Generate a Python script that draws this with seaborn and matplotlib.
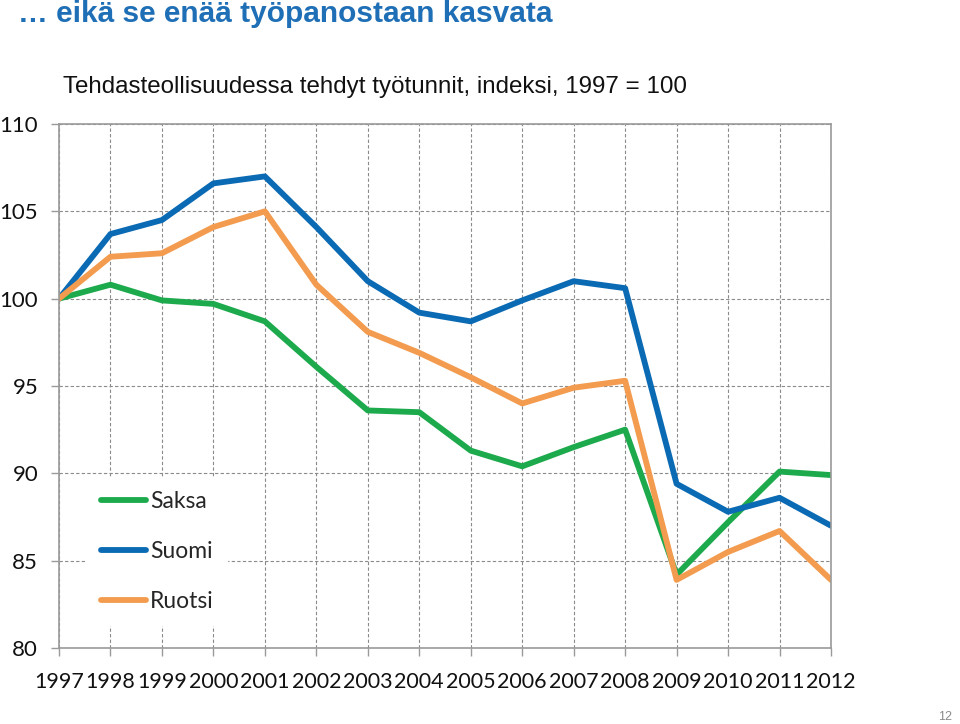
import numpy as np
import pandas as pd
import matplotlib
matplotlib.use("Agg")
import matplotlib.pyplot as plt
import seaborn as sns

# DATA
years = list(range(1997, 2013))
saksa = [100.0, 100.8, 99.9, 99.7, 98.7, 96.1, 93.6, 93.5, 91.3, 90.4, 91.5, 92.5, 84.2, 87.2, 90.1, 89.9]
suomi = [100.0, 103.7, 104.5, 106.6, 107.0, 104.1, 101.0, 99.2, 98.7, 99.9, 101.0, 100.6, 89.4, 87.8, 88.6, 87.0]
ruotsi = [100.0, 102.4, 102.6, 104.1, 105.0, 100.8, 98.1, 96.9, 95.5, 94.0, 94.9, 95.3, 83.9, 85.5, 86.7, 83.9]
series_names = ["Saksa", "Suomi", "Ruotsi"]
y_ticks = [80, 85, 90, 95, 100, 105, 110]

title = "\u2026 eikä se enää työpanostaan kasvata"
subtitle = "Tehdasteollisuudessa tehdyt työtunnit, indeksi, 1997 = 100"

# long-form table for seaborn
df = pd.DataFrame({
    "vuosi": years * 3,
    "indeksi": saksa + suomi + ruotsi,
    "maa": [n for n in series_names for _ in years],
})

palette = {"Saksa": "#1DAA4D", "Suomi": "#0B6AB4", "Ruotsi": "#F39B4E"}

sns.set_style("white")
plt.rcParams["font.family"] = ["Lato", "DejaVu Sans"]

fig = plt.figure(figsize=(9.6, 7.24), dpi=100)
ax = fig.add_axes([59 / 960, 1 - 648 / 724, 772 / 960, 524 / 724])

sns.lineplot(data=df, x="vuosi", y="indeksi", hue="maa", hue_order=series_names,
             palette=palette, linewidth=4.2, ax=ax, legend=True)

ax.set_xlim(1997, 2012)
ax.set_ylim(80, 110)
ax.set_xticks(years)
ax.set_xticklabels([str(y) for y in years], fontsize=15.5, color="#111111")
ax.set_yticks(y_ticks)
ax.set_yticklabels([str(v) for v in y_ticks], fontsize=16, color="#111111")
ax.set_xlabel("")
ax.set_ylabel("")

ax.grid(True, color="#8a8a8a", linestyle=(0, (3, 2)), linewidth=0.8)
ax.set_axisbelow(True)
for s in ax.spines.values():
    s.set_color("#9a9a9a")
    s.set_linewidth(1.2)
ax.tick_params(axis="y", direction="out", length=6, width=1, color="#9a9a9a", pad=9, left=True)
ax.tick_params(axis="x", direction="out", length=6, width=1, color="#9a9a9a", pad=11, bottom=True)

leg = ax.legend(loc="upper left", bbox_to_anchor=(0.036, 0.325), borderaxespad=0,
                frameon=True, facecolor="white", edgecolor="white", framealpha=1,
                fontsize=16.5, handlelength=2.0, handletextpad=0.15, labelspacing=1.25,
                borderpad=0.6)
for line in leg.get_lines():
    line.set_linewidth(4.2)

fig.text(18 / 960, 1 - 14 / 724, title, fontsize=21.5, fontweight="bold", color="#1F6FB6",
         family=["Liberation Sans", "DejaVu Sans"], ha="left", va="center")
fig.text(63 / 960, 1 - 87 / 724, subtitle, fontsize=17.4, color="#111111",
         family=["Liberation Sans", "DejaVu Sans"], ha="left", va="center")
fig.text(952 / 960, 1 - 717 / 724, "12", fontsize=9, color="#8a8a8a",
         family=["Liberation Sans", "DejaVu Sans"], ha="right", va="center")

fig.savefig("out.png", dpi=100)
